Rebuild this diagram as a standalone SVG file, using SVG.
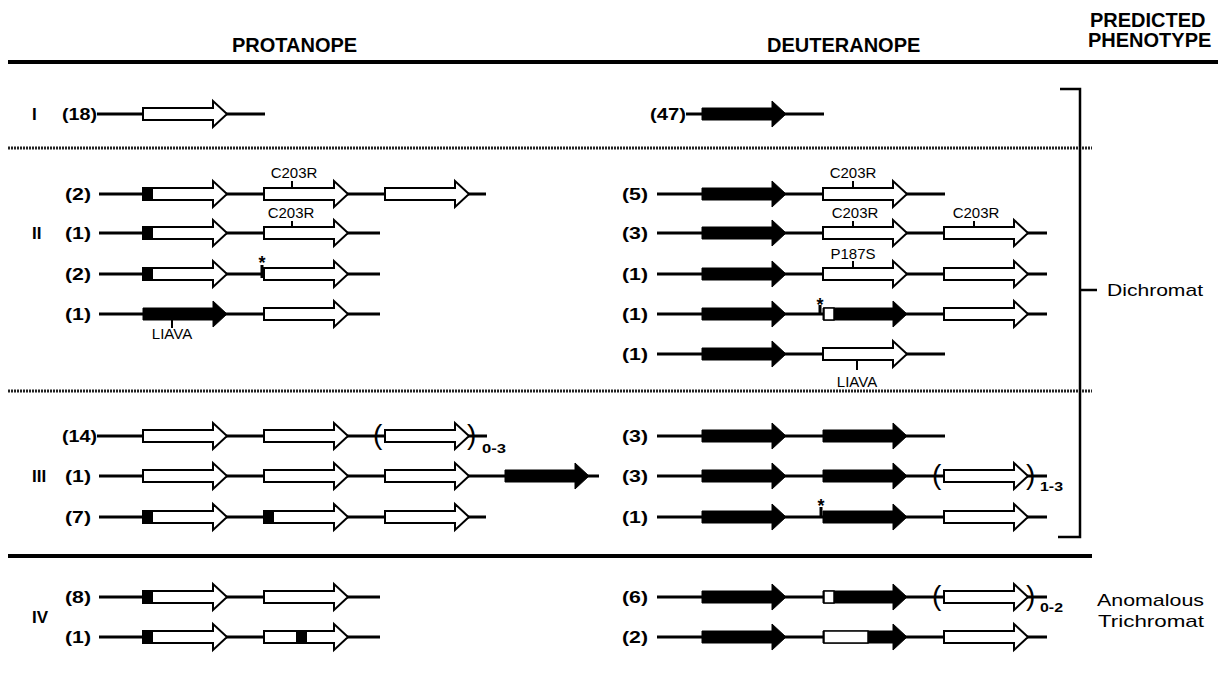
<svg xmlns="http://www.w3.org/2000/svg" width="1221" height="673" viewBox="0 0 1221 673">
<defs>
<style>
text{font-family:"Liberation Sans",Arial,Helvetica,sans-serif;fill:#000}
.hdr{font-weight:bold;font-size:20px}
.rom{font-weight:bold;font-size:17px}
.num{font-weight:bold;font-size:17px;text-anchor:end}
.mut{font-size:15px;text-anchor:middle}
.phen{font-size:17px}
.rng{font-weight:bold;font-size:12px}
.par{font-size:28px}
.ast{font-weight:bold;font-size:18px;text-anchor:middle}
.dna{stroke:#000;stroke-width:3;fill:none}
.wa{fill:#fff;stroke:#000;stroke-width:2}
.ba{fill:#000;stroke:#000;stroke-width:1}
.box{fill:#000}
.wbox{fill:#fff;stroke:#000;stroke-width:1.5}
.tick{stroke:#000;stroke-width:2}
.atk{stroke:#000;stroke-width:3}
.rule{stroke:#000;stroke-width:4}
.dot{stroke:#222;stroke-width:3;stroke-dasharray:2 1}
.brk{stroke:#000;stroke-width:2.5;fill:none}
</style>
<path id="arr" d="M0,-6H70V-13L84,0L70,13V6H0Z"/>
</defs>
<rect width="1221" height="673" fill="#fff"/>

<g id="headers">
<text class="hdr" x="232" y="52">PROTANOPE</text>
<text class="hdr" x="767" y="52">DEUTERANOPE</text>
<text class="hdr" x="1090" y="27">PREDICTED</text>
<text class="hdr" x="1088" y="47">PHENOTYPE</text>
</g>

<g id="connectors">
<line class="rule" x1="8" y1="62" x2="1218" y2="62"/>
<line class="dot" x1="8" y1="148" x2="1092" y2="148"/>
<line class="dot" x1="8" y1="391" x2="1092" y2="391"/>
<line class="rule" x1="8" y1="556" x2="1092" y2="556"/>
<polyline class="brk" points="1060,89 1080,89 1080,537 1058,537"/>
<line class="brk" x1="1080" y1="290" x2="1097" y2="290"/>
</g>

<g id="classes">
<text class="rom" x="32" y="120">I</text>
<text class="rom" x="32" y="239">II</text>
<text class="rom" x="32" y="482">III</text>
<text class="rom" x="32" y="623">IV</text>
</g>

<g id="phenotypes">
<text class="phen" x="1107" y="296" textLength="96" lengthAdjust="spacingAndGlyphs">Dichromat</text>
<text class="phen" x="1097" y="606" textLength="107" lengthAdjust="spacingAndGlyphs">Anomalous</text>
<text class="phen" x="1098" y="627" textLength="106" lengthAdjust="spacingAndGlyphs">Trichromat</text>
</g>

<!-- PROTANOPE -->
<g id="p-I">
<text class="num" x="97" y="120" textLength="35" lengthAdjust="spacingAndGlyphs">(18)</text>
<line class="dna" x1="97" y1="114" x2="265" y2="114"/>
<use href="#arr" class="wa" x="143" y="114"/>
</g>
<g id="p-II-1">
<text class="num" x="91" y="200" textLength="26" lengthAdjust="spacingAndGlyphs">(2)</text>
<line class="dna" x1="99" y1="194" x2="486" y2="194"/>
<use href="#arr" class="wa" x="143" y="194"/>
<rect class="box" x="143" y="187" width="10" height="14"/>
<use href="#arr" class="wa" x="264" y="194"/>
<use href="#arr" class="wa" x="385" y="194"/>
<line class="tick" x1="292" y1="181" x2="292" y2="188"/>
<text class="mut" x="294" y="178">C203R</text>
</g>
<g id="p-II-2">
<text class="num" x="91" y="239" textLength="26" lengthAdjust="spacingAndGlyphs">(1)</text>
<line class="dna" x1="99" y1="233" x2="380" y2="233"/>
<use href="#arr" class="wa" x="143" y="233"/>
<rect class="box" x="143" y="226" width="10" height="14"/>
<use href="#arr" class="wa" x="264" y="233"/>
<line class="tick" x1="292" y1="221" x2="292" y2="227"/>
<text class="mut" x="291" y="218">C203R</text>
</g>
<g id="p-II-3">
<text class="num" x="91" y="280" textLength="26" lengthAdjust="spacingAndGlyphs">(2)</text>
<line class="dna" x1="99" y1="274" x2="380" y2="274"/>
<use href="#arr" class="wa" x="143" y="274"/>
<rect class="box" x="143" y="267" width="10" height="14"/>
<use href="#arr" class="wa" x="264" y="274"/>
<line class="atk" x1="262" y1="265" x2="262" y2="278"/>
<text class="ast" x="262" y="269">*</text>
</g>
<g id="p-II-4">
<text class="num" x="91" y="320" textLength="26" lengthAdjust="spacingAndGlyphs">(1)</text>
<line class="dna" x1="99" y1="314" x2="380" y2="314"/>
<use href="#arr" class="ba" x="143" y="314"/>
<use href="#arr" class="wa" x="264" y="314"/>
<line class="tick" x1="172" y1="320" x2="172" y2="328"/>
<text class="mut" x="172" y="339">LIAVA</text>
</g>
<g id="p-III-1">
<text class="num" x="97" y="442" textLength="35" lengthAdjust="spacingAndGlyphs">(14)</text>
<line class="dna" x1="97" y1="436" x2="487" y2="436"/>
<use href="#arr" class="wa" x="143" y="436"/>
<use href="#arr" class="wa" x="264" y="436"/>
<use href="#arr" class="wa" x="385" y="436"/>
<text class="par" x="373" y="444">(</text>
<text class="par" x="467" y="444">)</text>
<text class="rng" x="482" y="453" textLength="24" lengthAdjust="spacingAndGlyphs">0-3</text>
</g>
<g id="p-III-2">
<text class="num" x="91" y="482" textLength="26" lengthAdjust="spacingAndGlyphs">(1)</text>
<line class="dna" x1="99" y1="476" x2="599" y2="476"/>
<use href="#arr" class="wa" x="143" y="476"/>
<use href="#arr" class="wa" x="264" y="476"/>
<use href="#arr" class="wa" x="385" y="476"/>
<use href="#arr" class="ba" x="505" y="476"/>
</g>
<g id="p-III-3">
<text class="num" x="91" y="523" textLength="26" lengthAdjust="spacingAndGlyphs">(7)</text>
<line class="dna" x1="99" y1="517" x2="486" y2="517"/>
<use href="#arr" class="wa" x="143" y="517"/>
<rect class="box" x="143" y="510" width="10" height="14"/>
<use href="#arr" class="wa" x="264" y="517"/>
<rect class="box" x="264" y="510" width="10" height="14"/>
<use href="#arr" class="wa" x="385" y="517"/>
</g>
<g id="p-IV-1">
<text class="num" x="91" y="603" textLength="26" lengthAdjust="spacingAndGlyphs">(8)</text>
<line class="dna" x1="99" y1="597" x2="380" y2="597"/>
<use href="#arr" class="wa" x="143" y="597"/>
<rect class="box" x="143" y="590" width="10" height="14"/>
<use href="#arr" class="wa" x="264" y="597"/>
</g>
<g id="p-IV-2">
<text class="num" x="91" y="643" textLength="26" lengthAdjust="spacingAndGlyphs">(1)</text>
<line class="dna" x1="99" y1="637" x2="380" y2="637"/>
<use href="#arr" class="wa" x="143" y="637"/>
<rect class="box" x="143" y="630" width="10" height="14"/>
<use href="#arr" class="wa" x="264" y="637"/>
<rect class="box" x="296" y="630" width="11" height="14"/>
</g>

<!-- DEUTERANOPE -->
<g id="d-I">
<text class="num" x="686" y="120" textLength="36" lengthAdjust="spacingAndGlyphs">(47)</text>
<line class="dna" x1="686" y1="114" x2="824" y2="114"/>
<use href="#arr" class="ba" x="702" y="114"/>
</g>
<g id="d-II-1">
<text class="num" x="648" y="200" textLength="26" lengthAdjust="spacingAndGlyphs">(5)</text>
<line class="dna" x1="657" y1="194" x2="945" y2="194"/>
<use href="#arr" class="ba" x="702" y="194"/>
<use href="#arr" class="wa" x="823" y="194"/>
<line class="tick" x1="853" y1="181" x2="853" y2="188"/>
<text class="mut" x="853" y="178">C203R</text>
</g>
<g id="d-II-2">
<text class="num" x="648" y="239" textLength="26" lengthAdjust="spacingAndGlyphs">(3)</text>
<line class="dna" x1="657" y1="233" x2="1047" y2="233"/>
<use href="#arr" class="ba" x="702" y="233"/>
<use href="#arr" class="wa" x="823" y="233"/>
<use href="#arr" class="wa" x="944" y="233"/>
<line class="tick" x1="853" y1="221" x2="853" y2="227"/>
<text class="mut" x="855" y="218">C203R</text>
<line class="tick" x1="974" y1="221" x2="974" y2="227"/>
<text class="mut" x="976" y="218">C203R</text>
</g>
<g id="d-II-3">
<text class="num" x="648" y="280" textLength="26" lengthAdjust="spacingAndGlyphs">(1)</text>
<line class="dna" x1="657" y1="274" x2="1047" y2="274"/>
<use href="#arr" class="ba" x="702" y="274"/>
<use href="#arr" class="wa" x="823" y="274"/>
<use href="#arr" class="wa" x="944" y="274"/>
<line class="tick" x1="853" y1="261" x2="853" y2="268"/>
<text class="mut" x="853" y="259">P187S</text>
</g>
<g id="d-II-4">
<text class="num" x="648" y="320" textLength="26" lengthAdjust="spacingAndGlyphs">(1)</text>
<line class="dna" x1="657" y1="314" x2="1047" y2="314"/>
<use href="#arr" class="ba" x="702" y="314"/>
<use href="#arr" class="ba" x="823" y="314"/>
<rect class="wbox" x="824" y="308" width="10" height="12"/>
<use href="#arr" class="wa" x="944" y="314"/>
<line class="atk" x1="820" y1="305" x2="820" y2="314"/>
<text class="ast" x="820" y="311">*</text>
</g>
<g id="d-II-5">
<text class="num" x="648" y="360" textLength="26" lengthAdjust="spacingAndGlyphs">(1)</text>
<line class="dna" x1="657" y1="354" x2="945" y2="354"/>
<use href="#arr" class="ba" x="702" y="354"/>
<use href="#arr" class="wa" x="823" y="354"/>
<line class="tick" x1="857" y1="360" x2="857" y2="370"/>
<text class="mut" x="857" y="387">LIAVA</text>
</g>
<g id="d-III-1">
<text class="num" x="648" y="442" textLength="26" lengthAdjust="spacingAndGlyphs">(3)</text>
<line class="dna" x1="657" y1="436" x2="945" y2="436"/>
<use href="#arr" class="ba" x="702" y="436"/>
<use href="#arr" class="ba" x="823" y="436"/>
</g>
<g id="d-III-2">
<text class="num" x="648" y="482" textLength="26" lengthAdjust="spacingAndGlyphs">(3)</text>
<line class="dna" x1="657" y1="476" x2="1047" y2="476"/>
<use href="#arr" class="ba" x="702" y="476"/>
<use href="#arr" class="ba" x="823" y="476"/>
<use href="#arr" class="wa" x="944" y="476"/>
<text class="par" x="932" y="484">(</text>
<text class="par" x="1026" y="484">)</text>
<text class="rng" x="1040" y="491" textLength="23" lengthAdjust="spacingAndGlyphs">1-3</text>
</g>
<g id="d-III-3">
<text class="num" x="648" y="523" textLength="26" lengthAdjust="spacingAndGlyphs">(1)</text>
<line class="dna" x1="657" y1="517" x2="1047" y2="517"/>
<use href="#arr" class="ba" x="702" y="517"/>
<use href="#arr" class="ba" x="823" y="517"/>
<use href="#arr" class="wa" x="944" y="517"/>
<line class="atk" x1="821" y1="507" x2="821" y2="517"/>
<text class="ast" x="821" y="512">*</text>
</g>
<g id="d-IV-1">
<text class="num" x="648" y="603" textLength="26" lengthAdjust="spacingAndGlyphs">(6)</text>
<line class="dna" x1="657" y1="597" x2="1047" y2="597"/>
<use href="#arr" class="ba" x="702" y="597"/>
<use href="#arr" class="ba" x="823" y="597"/>
<rect class="wbox" x="824" y="591" width="10" height="12"/>
<use href="#arr" class="wa" x="944" y="597"/>
<text class="par" x="932" y="605">(</text>
<text class="par" x="1026" y="605">)</text>
<text class="rng" x="1040" y="612" textLength="23" lengthAdjust="spacingAndGlyphs">0-2</text>
</g>
<g id="d-IV-2">
<text class="num" x="648" y="643" textLength="26" lengthAdjust="spacingAndGlyphs">(2)</text>
<line class="dna" x1="657" y1="637" x2="1047" y2="637"/>
<use href="#arr" class="ba" x="702" y="637"/>
<use href="#arr" class="ba" x="823" y="637"/>
<rect class="wbox" x="824" y="631" width="44" height="12"/>
<use href="#arr" class="wa" x="944" y="637"/>
</g>
</svg>
